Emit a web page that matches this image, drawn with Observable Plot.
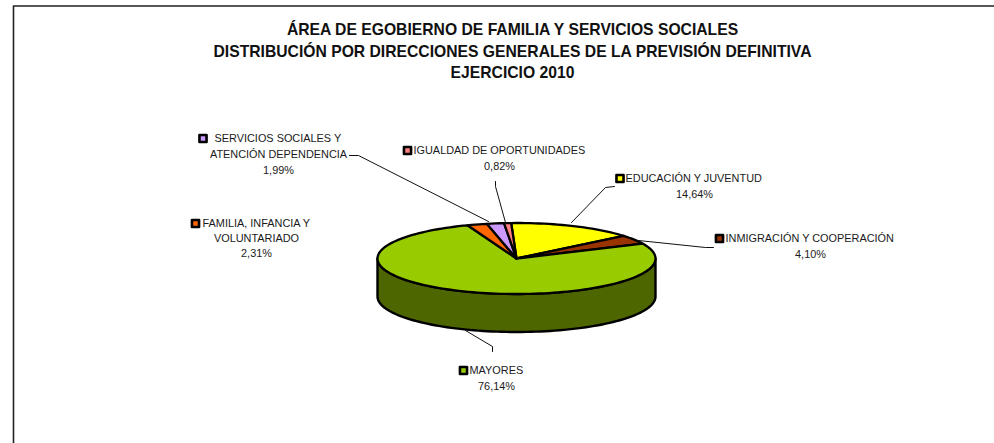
<!DOCTYPE html>
<html><head><meta charset="utf-8">
<script src="https://cdn.jsdelivr.net/npm/d3@7"></script>
<script src="https://cdn.jsdelivr.net/npm/@observablehq/plot@0.6"></script>
<style>html,body{margin:0;padding:0;background:#fff}svg{display:block}</style>
</head><body><div id="chart"></div>
<script>
const titleLines = ["ÁREA DE EGOBIERNO DE FAMILIA Y SERVICIOS SOCIALES","DISTRIBUCIÓN POR DIRECCIONES GENERALES DE LA PREVISIÓN DEFINITIVA","EJERCICIO 2010"];
const categories = ["EDUCACIÓN Y JUVENTUD","INMIGRACIÓN Y COOPERACIÓN","MAYORES","FAMILIA, INFANCIA Y VOLUNTARIADO","SERVICIOS SOCIALES Y ATENCIÓN DEPENDENCIA","IGUALDAD DE OPORTUNIDADES"];
const shares = [14.64,4.10,76.14,2.31,1.99,0.82];
const colors = ["#ffff00","#993300","#99cc00","#ff6600","#cc99ff","#ff8080"];
const W=994,H=443;
const cx=516,cy=258,rx=139,ry=35.5,depth=38,startDeg=-2.2;
const pt=(deg)=>{const a=deg*Math.PI/180;return [cx+rx*Math.sin(a),cy-ry*Math.cos(a)];};
let acc=startDeg;
const wedges=shares.map((s,i)=>{const a0=acc,a1=acc+s*3.6;acc=a1;return {name:categories[i],color:colors[i],a0,a1};});
const poly=[];
wedges.forEach(w=>{
  const n=Math.max(2,Math.ceil((w.a1-w.a0)/2));
  const p=[[cx,cy]];
  for(let k=0;k<=n;k++)p.push(pt(w.a0+(w.a1-w.a0)*k/n));
  p.push([cx,cy]);
  p.forEach(q=>poly.push({x:q[0],y:q[1],name:w.name,color:w.color}));
});
const sideTop=[];for(let d=90;d<=270;d+=2){sideTop.push(pt(d));}
const sidePts=[...sideTop.map(p=>({x:p[0],y:p[1]})),...sideTop.slice().reverse().map(p=>({x:p[0],y:p[1]+depth}))];
sidePts.push(sidePts[0]);
const labels=[
 {t:"SERVICIOS SOCIALES Y",x:214,y:138,a:"start"},{t:"ATENCIÓN DEPENDENCIA",x:278,y:154,a:"middle"},{t:"1,99%",x:278,y:170,a:"middle"},
 {t:"IGUALDAD DE OPORTUNIDADES",x:413,y:150,a:"start"},{t:"0,82%",x:499,y:166,a:"middle"},
 {t:"EDUCACIÓN Y JUVENTUD",x:625,y:178,a:"start"},{t:"14,64%",x:694,y:194,a:"middle"},
 {t:"INMIGRACIÓN Y COOPERACIÓN",x:725,y:238,a:"start"},{t:"4,10%",x:810,y:254,a:"middle"},
 {t:"FAMILIA, INFANCIA Y",x:202,y:223,a:"start"},{t:"VOLUNTARIADO",x:256,y:238,a:"middle"},{t:"2,31%",x:256,y:253,a:"middle"},
 {t:"MAYORES",x:469,y:370,a:"start"},{t:"76,14%",x:496,y:386,a:"middle"}
];
const keys=[{x:202.5,y:138,c:colors[4]},{x:407,y:150,c:colors[5]},{x:619.5,y:178,c:colors[0]},{x:719,y:238,c:colors[1]},{x:195,y:223,c:colors[3]},{x:463,y:370,c:colors[2]}];
const leaders=[
 [[349,155],[358,155],[488,221]],
 [[495,181],[495,186],[505,222]],
 [[614,186],[605,187],[571,222]],
 [[713,247],[705,247],[638,240]],
 [[492,351],[492,346],[465,330]]
].flatMap((l,i)=>l.map(p=>({x:p[0],y:p[1],i})));
const frame=[{x:994,y:5.5},{x:13,y:5.5},{x:13,y:443}];
const font="'Liberation Sans',Arial,sans-serif";
const plot=Plot.plot({width:W,height:H,margin:0,
 x:{domain:[0,W],range:[0,W],axis:null},y:{domain:[0,H],range:[0,H],axis:null},
 marks:[
  Plot.line(frame,{x:"x",y:"y",stroke:"#222",strokeWidth:1.6,curve:"linear"}),
  Plot.text(titleLines,{x:()=>512,y:(d,i)=>[29,51,72][i],text:d=>d,fontFamily:font,fontWeight:"bold",fontSize:15.7,fill:"#111"}),
  Plot.line(sidePts,{x:"x",y:"y",fill:"#4d6600",stroke:"#000",strokeWidth:2.4,curve:"linear"}),
  Plot.line(poly,{x:"x",y:"y",z:"name",fill:"color",stroke:"#000",strokeWidth:2.3,strokeLinejoin:"round",curve:"linear"}),
  Plot.line(leaders,{x:"x",y:"y",z:"i",stroke:"#111",strokeWidth:1,curve:"linear"}),
  Plot.dot(keys,{x:"x",y:"y",symbol:"square",r:4,fill:"c",stroke:"#000",strokeWidth:2.6,strokeLinejoin:"round"}),
  Plot.text(labels.filter(d=>d.a==="start"),{x:"x",y:"y",text:"t",textAnchor:"start",fontFamily:font,fontSize:10.9,fill:"#1a1a1a"}),
  Plot.text(labels.filter(d=>d.a==="middle"),{x:"x",y:"y",text:"t",textAnchor:"middle",fontFamily:font,fontSize:10.9,fill:"#1a1a1a"})
 ]});
document.getElementById("chart").append(plot);
</script></body></html>
